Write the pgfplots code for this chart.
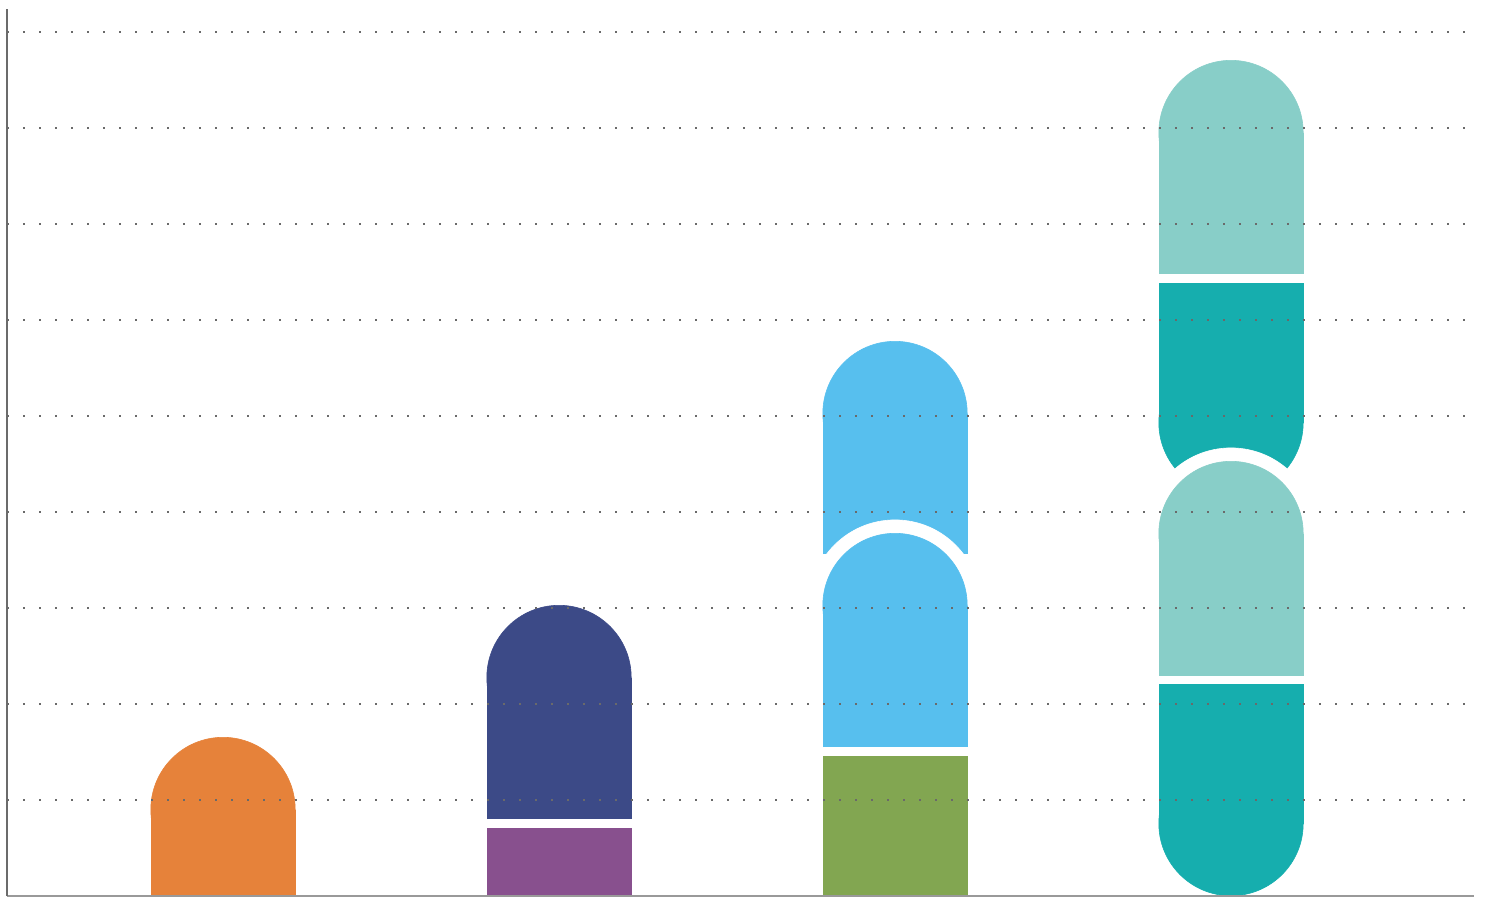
\documentclass[border=0pt]{standalone}
\usepackage{pgfplots}
\pgfplotsset{compat=1.18}
\usetikzlibrary{calc}
\definecolor{cOrange}{HTML}{E6823A}
\definecolor{cPurple}{HTML}{88508E}
\definecolor{cNavy}{HTML}{3C4A87}
\definecolor{cGreen}{HTML}{82A651}
\definecolor{cBlue}{HTML}{57BFEE}
\definecolor{cTeal}{HTML}{16AEAE}
\definecolor{cLTeal}{HTML}{88CEC8}
\definecolor{cGrid}{HTML}{6A6A6A}
\begin{document}
\begin{tikzpicture}
\begin{axis}[
  scale only axis, width=733.5pt, height=443.5pt,
  xmin=-0.6429, xmax=3.7232, ymin=0, ymax=9.24,
  clip mode=individual,
  axis x line=bottom, axis y line=left,
  x axis line style={-, color=black!40, line width=0.7pt},
  y axis line style={-, color=black!58, line width=0.9pt},
  xtick=\empty, ytick={1,...,9}, yticklabels={}, major tick length=0pt,
  ymajorgrids, grid style={cGrid, line width=1.2pt, dash pattern=on 1.2pt off 6.8pt},
  axis on top,
  seg/.style={line width=72.5pt, line cap=butt},
  cap/.style={mark=*, mark size=36.1pt, mark options={line width=0.3pt, solid}},
  ring/.style={only marks, mark=*, mark size=42.8pt, mark options={line width=0.3pt, solid}},
]
% category 1
\addplot[cOrange, seg, cap, mark indices={2}] coordinates {(0,0) (0,0.901)};
% category 2
\addplot[cPurple, seg] coordinates {(1,0) (1,0.708)};
\addplot[cNavy, seg, cap, mark indices={2}] coordinates {(1,0.802) (1,2.276)};
% category 3
\addplot[cBlue, seg, cap, mark indices={2}] coordinates {(2,3.5625) (2,5.026)};
\addplot[white, ring] coordinates {(2,3.026)};
\addplot[cBlue, seg, cap, mark indices={2}] coordinates {(2,1.552) (2,3.026)};
\addplot[cGreen, seg] coordinates {(2,0) (2,1.458)};
% category 4
\addplot[cTeal, seg, cap, mark indices={1}] coordinates {(3,4.932) (3,6.385)};
\addplot[cLTeal, seg, cap, mark indices={2}] coordinates {(3,6.479) (3,7.953)};
\addplot[white, ring] coordinates {(3,3.776)};
\addplot[cTeal, seg, cap, mark indices={1}] coordinates {(3,0.755) (3,2.208)};
\addplot[cLTeal, seg, cap, mark indices={2}] coordinates {(3,2.292) (3,3.776)};
\end{axis}
\pgfresetboundingbox
\path[use as bounding box] ($(current axis.south west)+(-3.5pt,-0.5pt)$) rectangle ($(current axis.north east)+(7pt,4.5pt)$);
\end{tikzpicture}
\end{document}
